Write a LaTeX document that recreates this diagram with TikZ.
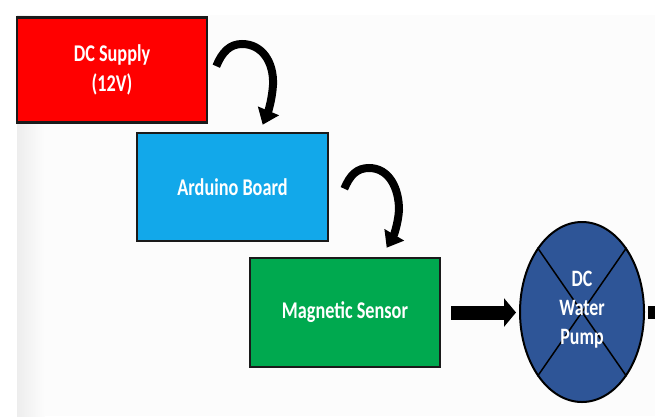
\documentclass[tikz,border=0pt]{standalone}
\usepackage{fontspec}
\setmainfont{Carlito}
\newfontfamily\labelfont[FakeStretch=0.76]{Carlito}
\usetikzlibrary{shapes.geometric,arrows.meta,calc}
\definecolor{boxred}{HTML}{FF0000}
\definecolor{boxblue}{HTML}{12A8EA}
\definecolor{boxgreen}{HTML}{00A94F}
\definecolor{pumpblue}{HTML}{2E5597}
\definecolor{edgecol}{HTML}{1A1A1A}
\tikzset{
  blockbox/.style={draw=edgecol, line width=2.6pt, rectangle, inner sep=0pt,
    text=white, font=\labelfont\fontsize{24}{30}\selectfont\bfseries, align=center},
  curvarrow/.style={line width=8pt, -{Triangle[width=22pt,length=15pt]}},
  blockarrow/.style={line width=14pt, -{Triangle[width=28pt,length=12pt]}},
}
\begin{document}
\begin{tikzpicture}[x=1pt,y=-1pt]
\useasboundingbox (0,0) rectangle (655,416);
\fill[white] (0,0) rectangle (655,416);
\fill[gray!2] (17,15) rectangle (655,416);
\shade[left color=gray!14, right color=gray!2] (17,15) rectangle (45,416);
\fill[white] (0,0) rectangle (655,15);

\node[blockbox, fill=boxred, minimum width=190pt, minimum height=105pt] (red) at (112,70) {DC Supply\\(12V)};
\node[blockbox, fill=boxblue, minimum width=191pt, minimum height=108pt] (blue) at (232.5,187) {Arduino Board};
\node[blockbox, fill=boxgreen, minimum width=190pt, minimum height=109pt] (green) at (345,312.5) {Magnetic Sensor};
\node[ellipse, draw=black, line width=2pt, fill=pumpblue, minimum width=124pt, minimum height=180pt, inner sep=0pt] (pump) at (582,312) {};
\draw[black, line width=1.5pt] (pump.north west) -- (pump.south east);
\draw[black, line width=1.5pt] (pump.north east) -- (pump.south west);
\node[text=white, font=\labelfont\fontsize{23.5}{29}\selectfont\bfseries, align=center, anchor=center] (pumplabel) at ([yshift=2pt]pump.center) {DC\\Water\\Pump};

\draw[curvarrow] ([shift={(8,50)}]red.north east) .. controls (222,52) and (230,44) .. (242,44)
  .. controls (262,44) and (274,62) .. (273,85)
  .. controls (272,100) and (268,112) .. ([shift={(127,-7)}]blue.north west);
\draw[curvarrow] ([shift={(15,57)}]blue.north east) .. controls (350,175) and (357,168) .. (369,168)
  .. controls (389,168) and (399,188) .. (399,210)
  .. controls (398,225) and (393,237) .. ([shift={(138,-9)}]green.north west);

\draw[blockarrow, shorten <=10pt, shorten >=3pt] (green.east) -- (green.east -| pump.west);
\coordinate (outend) at (660,312);
\draw[line width=13pt, shorten <=3pt] (pump.east) -- (outend);
\end{tikzpicture}
\end{document}
